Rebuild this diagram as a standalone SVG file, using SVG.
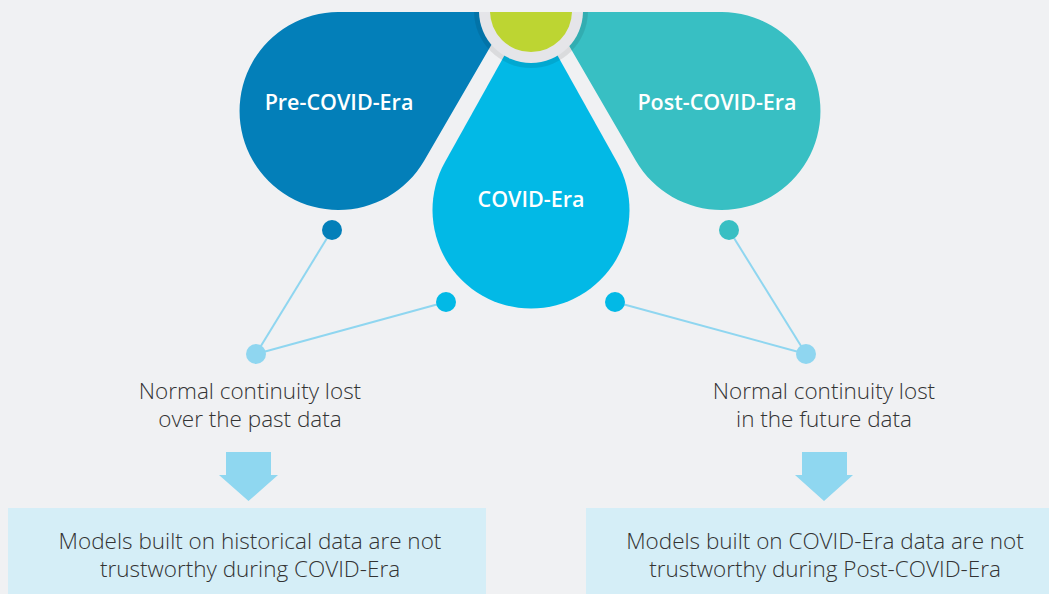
<svg xmlns="http://www.w3.org/2000/svg" width="1049" height="594" viewBox="0 0 1049 594">
<style>
.lbl{font-family:"Open Sans","Liberation Sans",sans-serif;font-size:21.5px;font-weight:600;fill:#ffffff;text-anchor:middle}
.txt{font-family:"Open Sans","Liberation Sans",sans-serif;font-size:22.5px;font-weight:300;fill:#333333;text-anchor:middle}
.link{stroke:#8fd6f0;stroke-width:2;fill:none}
.arrow{fill:#8fd7f0}
.box{fill:#d5eef7}
</style>
<defs>
<clipPath id="topclip"><rect x="0" y="12" width="1049" height="582"/></clipPath>
</defs>
<rect x="0" y="0" width="1049" height="594" fill="#f0f1f3"/>
<g clip-path="url(#topclip)">
<g id="pre-covid">
<path d="M338 12 L510.5 12 L424 161 A99 99 0 1 1 338 12 Z" fill="#037fb9"/>
<text class="lbl" x="339" y="110">Pre-COVID-Era</text>
</g>
<g id="post-covid">
<path d="M722 12 L549.5 12 L636 161 A99 99 0 1 0 722 12 Z" fill="#38bfc3"/>
<text class="lbl" x="717" y="110">Post-COVID-Era</text>
</g>
<g id="covid">
<path d="M531 8 L617 162 A98.5 98.5 0 1 1 445 162 Z" fill="#02b9e6"/>
<text class="lbl" x="531" y="207">COVID-Era</text>
</g>
<g id="hub">
<circle cx="531" cy="11" r="57" fill="#000000" opacity="0.09"/>
<circle cx="531" cy="11" r="52" fill="#e5e5e9"/>
<circle cx="531" cy="11" r="41" fill="#bdd532"/>
</g>
</g>
<g id="connectors">
<line class="link" x1="332" y1="230" x2="256" y2="354"/>
<line class="link" x1="446" y1="302" x2="256" y2="354"/>
<line class="link" x1="615" y1="302" x2="806" y2="354"/>
<line class="link" x1="729" y1="230" x2="806" y2="354"/>
<path class="arrow" d="M226 452 H271 V475 H278 L248.5 501 L219 475 H226 Z"/>
<path class="arrow" d="M802 452 H847 V475 H853 L824 501 L795 475 H802 Z"/>
</g>
<g id="dots">
<circle cx="332" cy="230" r="10" fill="#037fb9"/>
<circle cx="446" cy="302" r="10" fill="#02b9e6"/>
<circle cx="615" cy="302" r="10" fill="#02b9e6"/>
<circle cx="729" cy="230" r="10" fill="#38bfc3"/>
<circle cx="256" cy="354" r="10" fill="#8fd6f0"/>
<circle cx="806" cy="354" r="10" fill="#8fd6f0"/>
</g>
<g id="note-left">
<text class="txt" x="250" y="399">Normal continuity lost</text>
<text class="txt" x="250" y="427">over the past data</text>
</g>
<g id="note-right">
<text class="txt" x="824" y="399">Normal continuity lost</text>
<text class="txt" x="824" y="427">in the future data</text>
</g>
<g id="box-left">
<rect class="box" x="8" y="508" width="478" height="86"/>
<text class="txt" x="250" y="549">Models built on historical data are not</text>
<text class="txt" x="250" y="577">trustworthy during COVID-Era</text>
</g>
<g id="box-right">
<rect class="box" x="586" y="508" width="463" height="86"/>
<text class="txt" x="825" y="549">Models built on COVID-Era data are not</text>
<text class="txt" x="825" y="577">trustworthy during Post-COVID-Era</text>
</g>
</svg>
